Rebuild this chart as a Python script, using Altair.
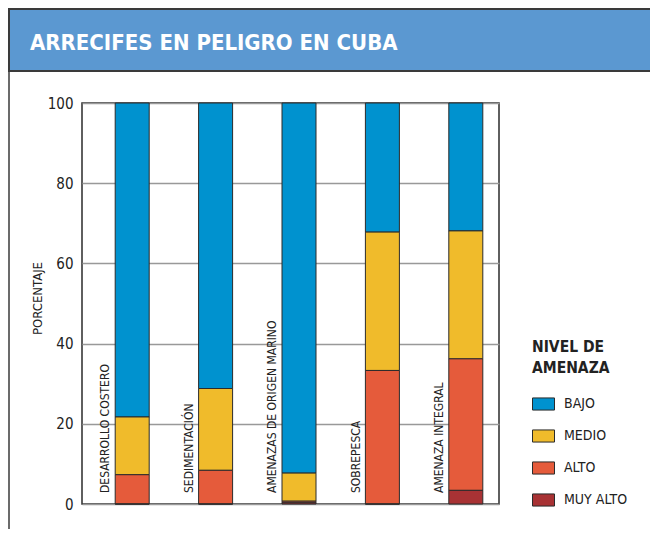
import altair as alt
import pandas as pd

title_text = "ARRECIFES EN PELIGRO EN CUBA"
categories = ["DESARROLLO COSTERO", "SEDIMENTACIÓN", "AMENAZAS DE ORIGEN MARINO", "SOBREPESCA", "AMENAZA INTEGRAL"]
levels = ["BAJO", "MEDIO", "ALTO", "MUY ALTO"]
colors = ["#0092CF", "#F0BB2B", "#E55B3B", "#A83234"]
muy_alto = [0.0, 0.0, 0.3, 0.0, 3.4]
alto = [7.3, 8.4, 0.4, 33.3, 32.8]
medio = [14.4, 20.4, 7.0, 34.5, 31.9]
bajo = [round(100 - a - b - c, 1) for a, b, c in zip(muy_alto, alto, medio)]
y_ticks = [0, 20, 40, 60, 80, 100]

series = {"BAJO": bajo, "MEDIO": medio, "ALTO": alto, "MUY ALTO": muy_alto}
order_map = {"MUY ALTO": 0, "ALTO": 1, "MEDIO": 2, "BAJO": 3}
rows = []
for lvl, vals in series.items():
    for c, v in zip(categories, vals):
        rows.append({"cat": c, "nivel": lvl, "valor": v, "orden": order_map[lvl]})
df = pd.DataFrame(rows)

FONT = "'DejaVu Sans Condensed', Roboto, sans-serif"
W, H = 417, 401
PL, PT, PR, PB = 74, 95, 151, 25

xenc = alt.X("cat:N", sort=categories, axis=None,
             scale=alt.Scale(paddingInner=0, paddingOuter=0))

bars = alt.Chart(df).mark_bar(width=34, xOffset=8.5, stroke="#2b2b2b", strokeWidth=1).encode(
    x=xenc,
    y=alt.Y("valor:Q", stack="zero",
            scale=alt.Scale(domain=[0, 100], nice=False),
            axis=alt.Axis(values=y_ticks, title="PORCENTAJE", ticks=False,
                          labelPadding=9, titlePadding=3, titleY=195, grid=True,
                          gridColor="#999999", gridWidth=1.5,
                          domain=False)),
    color=alt.Color("nivel:N", sort=levels,
                    scale=alt.Scale(domain=levels, range=colors),
                    legend=alt.Legend(title=["NIVEL DE", "AMENAZA"], orient="none",
                                      legendX=450, legendY=237,
                                      symbolType="M-1,-0.55H1V0.55H-1Z",
                                      symbolSize=484, symbolStrokeColor="#2b2b2b",
                                      symbolStrokeWidth=1, symbolOpacity=1,
                                      rowPadding=12, titlePadding=16,
                                      labelOffset=9)),
    order=alt.Order("orden:Q"),
)

labels_df = pd.DataFrame({"cat": categories})
labels = alt.Chart(labels_df).mark_text(angle=270, align="left", baseline="middle",
                                         font=FONT, fontSize=12, color="#222222").encode(
    x=alt.X("cat:N", sort=categories, axis=None, bandPosition=0.28,
            scale=alt.Scale(paddingInner=0, paddingOuter=0)),
    y=alt.value(390),
    text="cat:N",
)

hdr_df = pd.DataFrame({"t": [title_text]})
header = alt.Chart(hdr_df).mark_rect(fill="#5B98D1", stroke="#3a3a3a", strokeWidth=2, clip=False).encode(
    x=alt.value(-73), x2=alt.value(PR + W + 4), y=alt.value(-94), y2=alt.value(-32)
)
htext = alt.Chart(hdr_df).mark_text(align="left", baseline="alphabetic", font=FONT,
                                    fontWeight="bold", fontSize=22, color="white").encode(
    x=alt.value(-52), y=alt.value(-53), text="t:N"
)
border = alt.Chart(hdr_df).mark_rule(color="#3a3a3a", strokeWidth=1.5).encode(
    x=alt.value(-73), y=alt.value(-32), y2=alt.value(H + PB + 5)
)

chart = alt.layer(bars, labels, header, htext, border).properties(
    width=W, height=H,
    autosize=alt.AutoSizeParams(type="none"),
    padding={"left": PL, "top": PT, "right": PR, "bottom": PB},
).configure_view(stroke="#2b2b2b", strokeWidth=1.5).configure_axis(
    labelFont=FONT, labelFontSize=15, labelColor="#222222",
    titleFont=FONT, titleFontSize=13, titleFontWeight="normal", titleColor="#222222",
).configure_legend(
    titleFont=FONT, titleFontSize=15.5, titleFontWeight="bold", titleColor="#222222",
    titleLineHeight=21,
    labelFont=FONT, labelFontSize=14, labelColor="#222222",
)

chart.save("out.html", embed_options={"renderer": "svg", "actions": False})
